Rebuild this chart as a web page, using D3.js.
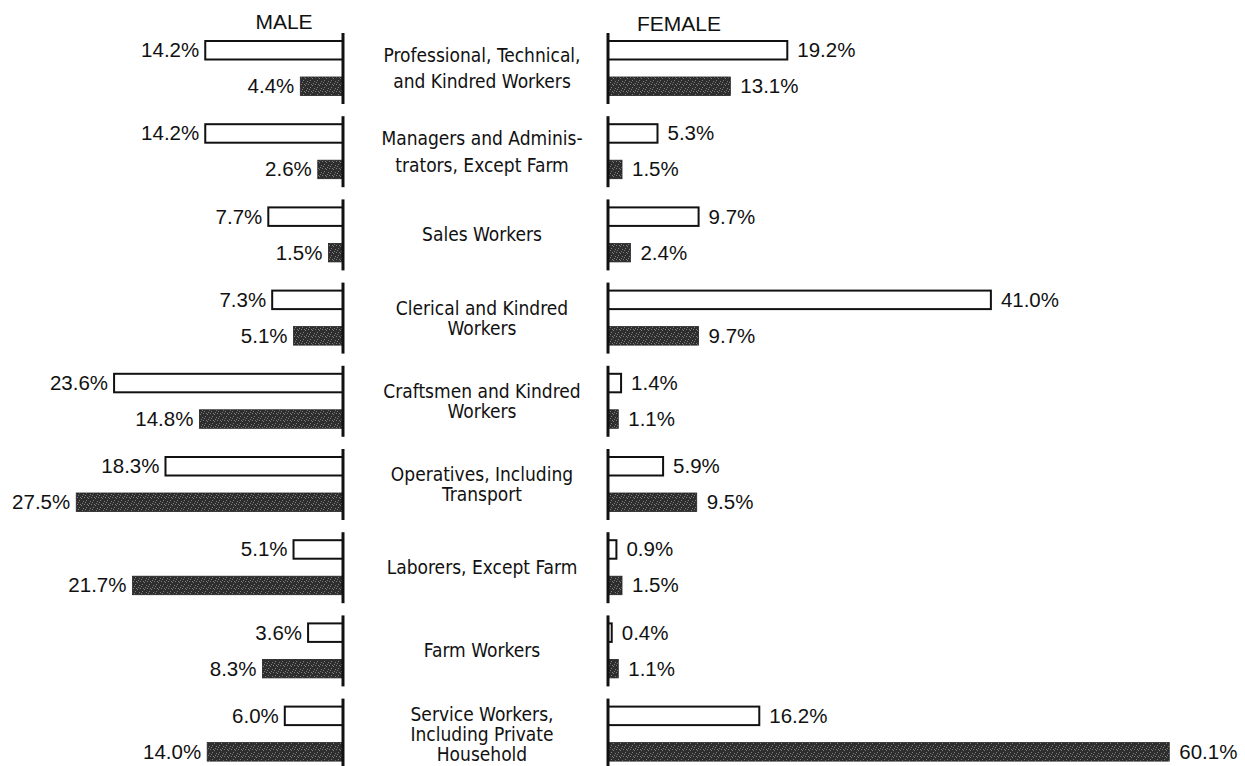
<!DOCTYPE html>
<html>
<head>
<meta charset="utf-8">
<script src="https://cdn.jsdelivr.net/npm/d3@7"></script>
<style>
  body { margin: 0; background: #fff; }
  .value { font-family: "Liberation Sans", Arial, sans-serif; font-size: 20.5px; fill: #111; }
  .cat { font-family: "Liberation Sans Narrow", "DejaVu Sans Condensed", sans-serif; font-size: 19px; fill: #111; }
  .head { font-family: "Liberation Sans", Arial, sans-serif; font-size: 21px; fill: #111; }
</style>
</head>
<body>
<div id="chart"></div>
<script>
// occupational distribution, percent
const categories = [
  'Professional, Technical, and Kindred Workers',
  'Managers and Administrators, Except Farm',
  'Sales Workers',
  'Clerical and Kindred Workers',
  'Craftsmen and Kindred Workers',
  'Operatives, Including Transport',
  'Laborers, Except Farm',
  'Farm Workers',
  'Service Workers, Including Private Household'
];
// label lines as printed
const categoryLines = [
  ['Professional, Technical,', 'and Kindred Workers'],
  ['Managers and Adminis-', 'trators, Except Farm'],
  ['Sales Workers'],
  ['Clerical and Kindred', 'Workers'],
  ['Craftsmen and Kindred', 'Workers'],
  ['Operatives, Including', 'Transport'],
  ['Laborers, Except Farm'],
  ['Farm Workers'],
  ['Service Workers,', 'Including Private', 'Household']
];
const maleOpen     = [14.2, 14.2, 7.7, 7.3, 23.6, 18.3, 5.1, 3.6, 6.0];
const maleShaded   = [4.4, 2.6, 1.5, 5.1, 14.8, 27.5, 21.7, 8.3, 14.0];
const femaleOpen   = [19.2, 5.3, 9.7, 41.0, 1.4, 5.9, 0.9, 0.4, 16.2];
const femaleShaded = [13.1, 1.5, 2.4, 9.7, 1.1, 9.5, 1.5, 1.1, 60.1];
const panels = ['MALE', 'FEMALE'];

const width = 1245, height = 766;
const leading = [26, 27, 22, 20, 20, 20, 22, 22, 20];

const svg = d3.select('#chart').append('svg')
  .attr('width', width)
  .attr('height', height);

// dark stippled fill like the printed screen
const defs = svg.append('defs');
const pat = defs.append('pattern')
  .attr('id', 'stipple')
  .attr('width', 7).attr('height', 7)
  .attr('patternUnits', 'userSpaceOnUse');
pat.append('rect').attr('width', 7).attr('height', 7).attr('fill', '#2e2e2e');
[[0, 0], [4, 1], [2, 3], [6, 4], [1, 5], [5, 6], [3, 0]].forEach(p => {
  pat.append('rect').attr('x', p[0]).attr('y', p[1])
    .attr('width', 1).attr('height', 1).attr('fill', '#7d7d7d');
});

const y = d3.scaleBand()
  .domain(categories)
  .range([41, 41 + 83.2 * categories.length])
  .paddingInner(0);

const yInner = d3.scaleBand()
  .domain(['open', 'shaded'])
  .range([0, 54.5])
  .paddingInner(0.486);

const xMale = d3.scaleLinear().domain([0, 30]).range([343, 343 - 291]);
const xFemale = d3.scaleLinear().domain([0, 65]).range([608, 608 + 607]);

function rows(openVals, shadedVals) {
  const out = [];
  categories.forEach((c, i) => {
    out.push({ cat: c, kind: 'open', v: openVals[i] });
    out.push({ cat: c, kind: 'shaded', v: shadedVals[i] });
  });
  return out;
}

function drawSide(x, data, side) {
  const g = svg.append('g');
  const x0 = x(0);

  g.selectAll('rect.bar')
    .data(data)
    .join('rect')
    .attr('class', 'bar')
    .attr('x', d => Math.min(x0, x(d.v)))
    .attr('y', d => y(d.cat) + yInner(d.kind))
    .attr('width', d => Math.abs(x(d.v) - x0))
    .attr('height', yInner.bandwidth())
    .attr('fill', d => d.kind === 'open' ? '#fff' : 'url(#stipple)')
    .attr('stroke', d => d.kind === 'open' ? '#111' : '#222')
    .attr('stroke-width', d => d.kind === 'open' ? 2 : 0.8);

  // baseline for each group
  g.selectAll('line.axis')
    .data(categories)
    .join('line')
    .attr('class', 'axis')
    .attr('x1', x0).attr('x2', x0)
    .attr('y1', c => y(c) - 8)
    .attr('y2', c => y(c) + 63)
    .attr('stroke', '#111')
    .attr('stroke-width', 3);

  g.selectAll('text.value')
    .data(data)
    .join('text')
    .attr('class', 'value')
    .attr('x', d => side === 'left' ? x(d.v) - 6 : x(d.v) + 10)
    .attr('y', d => y(d.cat) + yInner(d.kind) + yInner.bandwidth() / 2 + 7)
    .attr('text-anchor', side === 'left' ? 'end' : 'start')
    .text(d => d.v.toFixed(1) + '%');
}

drawSide(xMale, rows(maleOpen, maleShaded), 'left');
drawSide(xFemale, rows(femaleOpen, femaleShaded), 'right');

// panel headings
svg.append('text').attr('class', 'head')
  .attr('x', 284).attr('y', 29).attr('text-anchor', 'middle').text(panels[0]);
svg.append('text').attr('class', 'head')
  .attr('x', 679).attr('y', 31).attr('text-anchor', 'middle').text(panels[1]);

// category labels in the middle
const labels = svg.append('g');
categories.forEach((c, i) => {
  const lines = categoryLines[i];
  const cy = y(c) + 27;
  const t = labels.append('text')
    .attr('class', 'cat')
    .attr('text-anchor', 'middle');
  lines.forEach((ln, j) => {
    t.append('tspan')
      .attr('x', 482)
      .attr('y', cy + (j - (lines.length - 1) / 2) * leading[i] + 7)
      .text(ln);
  });
});
</script>
</body>
</html>
